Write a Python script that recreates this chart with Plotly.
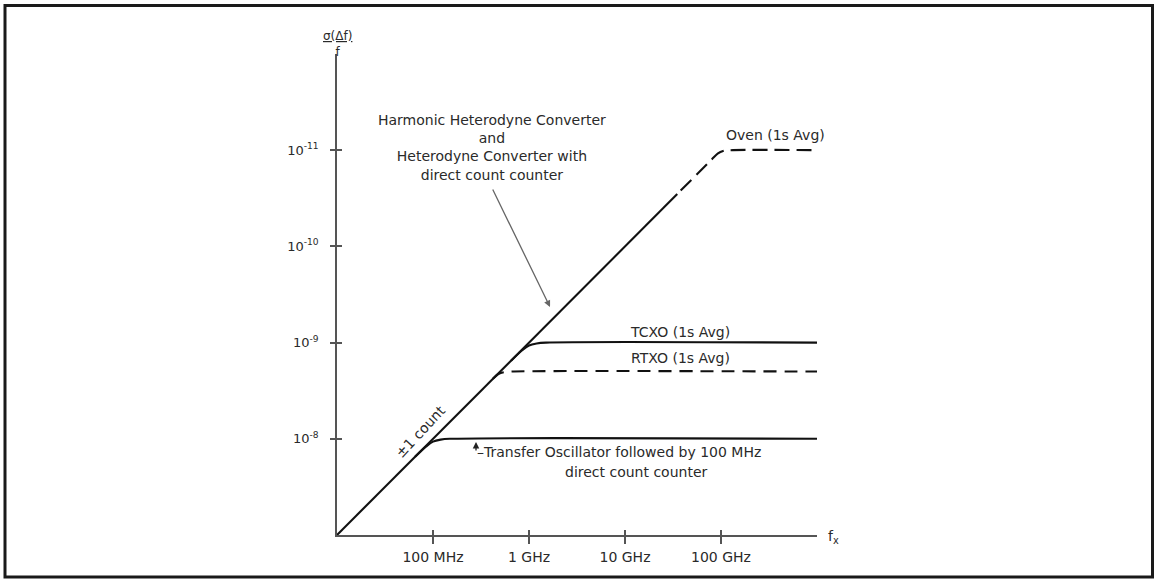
import plotly.graph_objects as go

# ---- data (frequency in Hz, fractional error) ----
count_f = [1e7, 3.5e10]
count_sigma = [1e-7, 2.86e-11]

oven_f = [3.8e10, 8.0e10, 9.3e10, 1.05e11, 1.25e11, 1e12]
oven_sigma = [2.63e-11, 1.25e-11, 1.08e-11, 1.02e-11, 1.0e-11, 1.0e-11]

tcxo_f = [6.5e8, 8.5e8, 1.0e9, 1.2e9, 1.5e9, 1e12]
tcxo_sigma = [1.54e-9, 1.2e-9, 1.07e-9, 1.02e-9, 1.0e-9, 1.0e-9]

rtxo_f = [4.2e8, 4.8e8, 5.5e8, 6.5e8, 1e12]
rtxo_sigma = [2.38e-9, 2.12e-9, 2.03e-9, 2.0e-9, 2.0e-9]

transfer_f = [6.5e7, 8.5e7, 1.0e8, 1.2e8, 1.5e8, 1e12]
transfer_sigma = [1.54e-8, 1.2e-8, 1.07e-8, 1.02e-8, 1.0e-8, 1.0e-8]

x_tickvals = [1e8, 1e9, 1e10, 1e11]
x_ticktext = ["100 MHz", "1 GHz", "10 GHz", "100 GHz"]
y_tickvals = [1e-11, 1e-10, 1e-9, 1e-8]
y_ticktext = ["10<sup>-11</sup>", "10<sup>-10</sup>", "10<sup>-9</sup>", "10<sup>-8</sup>"]

# ---- layout constants ----
W, H = 1155, 580
L, R, T, B = 337, 338, 54, 45
PW, PH = W - L - R, H - T - B
FONT = "DejaVu Sans"
TXT = "#2a2a2a"
LINE = "#111111"
AX = "#555555"

fig = go.Figure()

def add_line(x, y, dash="solid", shape="spline"):
    fig.add_trace(go.Scatter(
        x=x, y=y, mode="lines",
        line=dict(color=LINE, width=2.1, dash=dash, shape=shape, smoothing=0.9),
        hoverinfo="skip", showlegend=False))

add_line(count_f, count_sigma, shape="linear")
add_line(oven_f, oven_sigma, dash="15px,7px")
add_line(tcxo_f, tcxo_sigma)
add_line(rtxo_f, rtxo_sigma, dash="13px,8px")
add_line(transfer_f, transfer_sigma)

# invisible trace so the overlay axes (inner tick halves) are drawn
fig.add_trace(go.Scatter(x=count_f, y=count_sigma, xaxis="x2", yaxis="y2",
                         mode="lines", opacity=0, hoverinfo="skip",
                         showlegend=False))

axis_common = dict(showgrid=False, zeroline=False)
fig.update_layout(
    width=W, height=H,
    margin=dict(l=L, r=R, t=T, b=B),
    paper_bgcolor="white", plot_bgcolor="white",
    font=dict(family=FONT, size=14, color=TXT),
    xaxis=dict(type="log", range=[7, 12], tickvals=x_tickvals, ticktext=x_ticktext,
               ticks="outside", ticklen=7, tickwidth=1.5, tickcolor=AX,
               showline=True, linecolor=AX, linewidth=1.5,
               tickfont=dict(family=FONT, size=14, color=TXT),
               ticklabelstandoff=1, **axis_common),
    yaxis=dict(type="log", range=[-7, -12], tickvals=y_tickvals, ticktext=y_ticktext,
               ticks="outside", ticklen=5, tickwidth=1.5, tickcolor=AX,
               showline=True, linecolor=AX, linewidth=1.5,
               tickfont=dict(family=FONT, size=13, color=TXT),
               ticklabelstandoff=9, **axis_common),
    xaxis2=dict(type="log", range=[7, 12], tickvals=x_tickvals, overlaying="x",
                anchor="y2", side="bottom", ticks="inside", ticklen=5, tickwidth=1.5,
                tickcolor=AX, showticklabels=False, showline=False, **axis_common),
    yaxis2=dict(type="log", range=[-7, -12], tickvals=y_tickvals, overlaying="y",
                anchor="x2", side="left", ticks="inside", ticklen=5, tickwidth=1.5,
                tickcolor=AX, showticklabels=False, showline=False, **axis_common),
)

# outer frame (pixel positions converted to paper units)
def px_x(px):
    return (px - L) / PW

def px_y(py):
    return (H - B - py) / PH

fig.add_shape(type="rect", xref="paper", yref="paper",
              x0=px_x(5), x1=px_x(1152.5), y0=px_y(577), y1=px_y(5.5),
              line=dict(color="#1a1a1a", width=3), layer="below")

def ann(x, y, text, **kw):
    d = dict(x=x, y=y, text=text, showarrow=False, xref="x", yref="y",
             font=dict(family=FONT, size=14, color=TXT))
    d.update(kw)
    fig.add_annotation(**d)

# axis titles
ann(0, px_y(44), "<u>σ(Δf)</u><br>f", xref="paper", yref="paper",
    xanchor="center", yanchor="middle", font=dict(family=FONT, size=12, color=TXT))
ann(1, 0, "f<sub>x</sub>", xref="paper", yref="paper", xanchor="left",
    yanchor="middle", xshift=9, yshift=-2)

# curve labels (annotation positions are in log10 units on log axes)
ann(8.615, -11.028, "Harmonic Heterodyne Converter<br>and<br>Heterodyne Converter with<br>direct count counter",
    xanchor="center", yanchor="middle")
ann(9.219, -9.370, "", showarrow=True, ax=-58, ay=-119, arrowhead=2, arrowsize=1,
    arrowwidth=1.3, arrowcolor="#666666", standoff=0)
ann(11.5625, -11.158, "Oven (1s Avg)", xanchor="center", yanchor="middle")
ann(10.573, -9.110, "TCXO (1s Avg)", xanchor="center", yanchor="middle")
ann(10.573, -8.840, "RTXO (1s Avg)", xanchor="center", yanchor="middle")
ann(7.865, -8.071, "±1 count", textangle=-47, xanchor="center", yanchor="middle")
ann(8.448, -7.967, "", showarrow=True, ax=0, ay=10, arrowhead=2, arrowsize=1,
    arrowwidth=1.3, arrowcolor="#222222", standoff=0)
ann(8.448, -7.863, "–Transfer Oscillator followed by 100 MHz", xanchor="left",
    yanchor="middle", xshift=-1)
ann(9.354, -7.655, "direct count counter", xanchor="left", yanchor="middle")

fig.write_html("out.html", config={"displayModeBar": False},
               post_script="document.body.style.margin='0px';")
